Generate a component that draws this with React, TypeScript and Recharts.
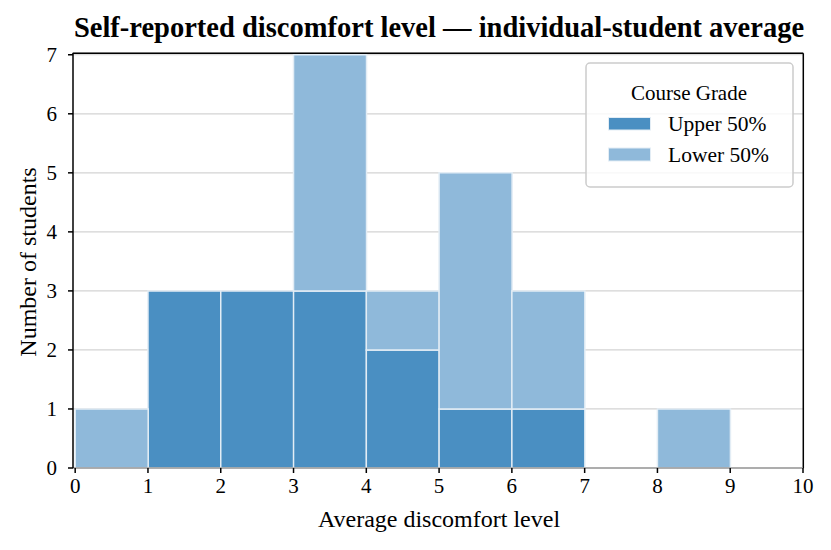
import React from "react";
import { BarChart, Bar, XAxis, YAxis, CartesianGrid } from "recharts";

const binMids = [0.5, 1.5, 2.5, 3.5, 4.5, 5.5, 6.5, 7.5, 8.5, 9.5];
const upper50 = [0, 3, 3, 3, 2, 1, 1, 0, 0, 0];
const lower50 = [1, 0, 0, 4, 1, 4, 2, 0, 1, 0];
const xTicks = [0, 1, 2, 3, 4, 5, 6, 7, 8, 9, 10];
const yTicks = [0, 1, 2, 3, 4, 5, 6, 7];

const data = binMids.map((m, i) => ({ mid: m, upper: upper50[i], lower: lower50[i] }));

const FONT = "'Liberation Serif', 'DejaVu Serif', serif";
const UPPER = "#4a8fc2";
const LOWER = "#8fb9da";
const EDGE = "#e3edf5";

export default function App() {
  return (
    <div style={{ position: "absolute", left: 0, top: 0, width: 831, height: 550, background: "#fff" }}>
      <BarChart
        width={831}
        height={550}
        data={data}
        barCategoryGap={0}
        barGap={0}
        margin={{ top: 53, right: 28, bottom: 42, left: 0 }}
      >
        <CartesianGrid vertical={false} stroke="#d3d3d3" strokeWidth={1.2} />
        <XAxis
          dataKey="mid"
          type="number"
          domain={[-0.03, 10]}
          ticks={xTicks}
          allowDataOverflow
          interval={0}
          height={40}
          axisLine={{ stroke: "#999", strokeWidth: 1.5 }}
          tickLine={{ stroke: "#000", strokeWidth: 1.5 }}
          tickSize={5}
          tickMargin={5}
          tick={{ fill: "#000", fontSize: 21, fontFamily: FONT }}
        />
        <YAxis
          domain={[0, 7.03]}
          ticks={yTicks}
          allowDataOverflow
          width={73}
          axisLine={{ stroke: "#000", strokeWidth: 1.5 }}
          tickLine={{ stroke: "#000", strokeWidth: 1.5 }}
          tickSize={5}
          tickMargin={11}
          tick={{ fill: "#000", fontSize: 21, fontFamily: FONT }}
        />
        <Bar dataKey="upper" stackId="a" fill={UPPER} stroke={EDGE} strokeWidth={1.5} isAnimationActive={false} />
        <Bar dataKey="lower" stackId="a" fill={LOWER} stroke={EDGE} strokeWidth={1.5} isAnimationActive={false} />
        {/* top and right spines */}
        <line x1={72.7} y1={53.3} x2={803.3} y2={53.3} stroke="#000" strokeWidth={1.5} />
        <line x1={803.3} y1={53.3} x2={803.3} y2={468.3} stroke="#000" strokeWidth={1.5} />
        <text x={439} y={37} textAnchor="middle" fontFamily={FONT} fontWeight="bold" fontSize={28.5} fill="#000">
          Self-reported discomfort level — individual-student average
        </text>
        <text x={439} y={527} textAnchor="middle" fontFamily={FONT} fontSize={24} fill="#000">
          Average discomfort level
        </text>
        <text
          x={0}
          y={0}
          transform="translate(28,262) rotate(-90)"
          textAnchor="middle"
          dominantBaseline="central"
          fontFamily={FONT}
          fontSize={24}
          fill="#000"
        >
          Number of students
        </text>
        {/* legend */}
        <g>
          <rect x={586} y={63} width={207} height={124} rx={4} ry={4} fill="#fff" fillOpacity={0.8} stroke="#cccccc" strokeWidth={1.5} />
          <text x={689} y={100} textAnchor="middle" fontFamily={FONT} fontSize={21} fill="#000">
            Course Grade
          </text>
          <rect x={608.5} y={117.5} width={42} height={12.5} fill={UPPER} stroke={EDGE} strokeWidth={1} />
          <text x={668} y={131} fontFamily={FONT} fontSize={21.5} fill="#000">
            Upper 50%
          </text>
          <rect x={608.5} y={148} width={42} height={13} fill={LOWER} stroke={EDGE} strokeWidth={1} />
          <text x={668} y={161.5} fontFamily={FONT} fontSize={21.5} fill="#000">
            Lower 50%
          </text>
        </g>
      </BarChart>
    </div>
  );
}
